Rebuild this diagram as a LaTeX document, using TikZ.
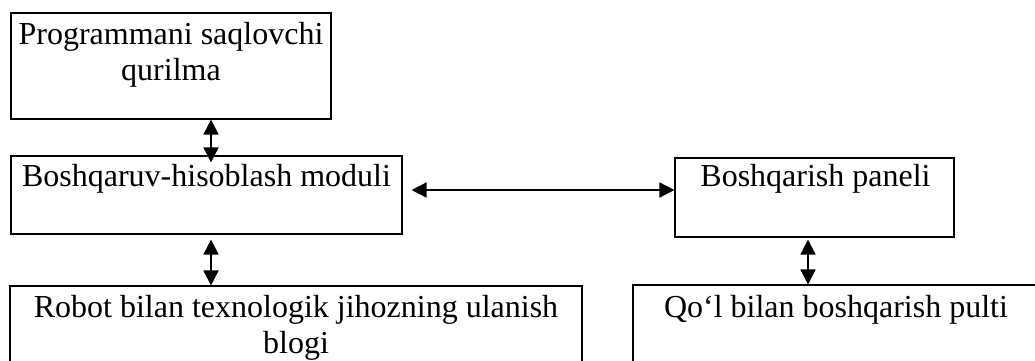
\documentclass[tikz,border=0pt]{standalone}
\usepackage{fontspec}
\setmainfont{Liberation Serif}
\usetikzlibrary{arrows.meta,fit}
\begin{document}
\begin{tikzpicture}[x=1pt,y=-1pt,
  blk/.style={draw, line width=1.1pt, inner sep=0pt},
  txt/.style={anchor=base, inner sep=0pt, font=\fontsize{32}{36}\selectfont},
  dbl/.style={{Triangle[length=15pt,width=15pt]}-{Triangle[length=15pt,width=15pt]}, line width=1.5pt}]
  \useasboundingbox (0,0) rectangle (1035,360);
  \fill[white] (0,0) rectangle (1035,360);
  \clip (0,0) rectangle (1035,360);

  % blocks
  \node[blk, fit={(11,13) (331,119)}]  (b1) {};
  \node[blk, fit={(11,156) (402,234)}] (b2) {};
  \node[blk, fit={(675,158) (954,237)}] (b3) {};
  \node[blk, fit={(10,286) (582,380)}] (b4) {};
  \node[blk, fit={(633,285) (1039,380)}] (b5) {};

  % captions
  \node[txt] (t1) at ([yshift=-32pt]b1.north) {\parbox[t]{330pt}{\centering Programmani saqlovchi\\qurilma}};
  \node[txt] (t2) at ([yshift=-31pt]b2.north) {Boshqaruv-hisoblash moduli};
  \node[txt] (t3) at ([yshift=-29pt,xshift=1pt]b3.north) {Boshqarish paneli};
  \node[txt] (t4) at ([yshift=-32pt]b4.north) {\parbox[t]{570pt}{\centering Robot bilan texnologik jihozning ulanish\\blogi}};
  \node[txt] (t5) at ([yshift=-33pt]b5.north) {Qo‘l bilan boshqarish pulti};

  % connector columns and row
  \coordinate (colL) at (211,0);
  \coordinate (colR) at (808,0);
  \coordinate (rowH) at (0,190);

  % links
  \draw[dbl] (b1.south -| colL) -- ([yshift=-7pt]b2.north -| colL);
  \draw[dbl] ([yshift=-5pt]b2.south -| colL) -- (b4.north -| colL);
  \draw[dbl] ([xshift=9pt]b2.east |- rowH) -- (b3.west |- rowH);
  \draw[dbl] ([yshift=-2pt]b3.south -| colR) -- (b5.north -| colR);
\end{tikzpicture}
\end{document}
